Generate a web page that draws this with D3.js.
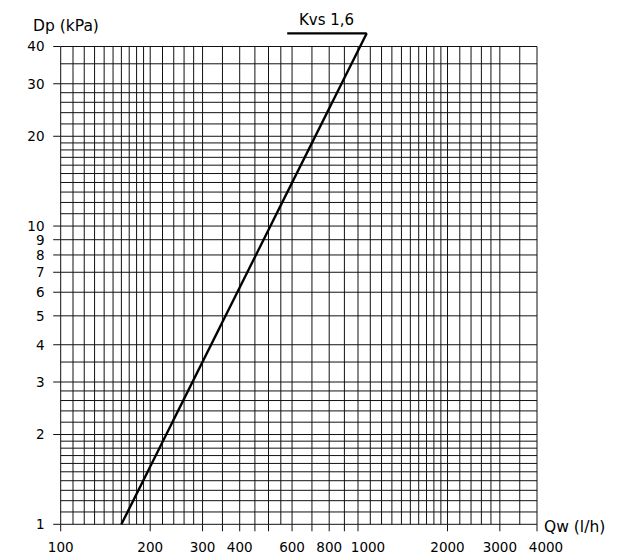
<!DOCTYPE html>
<html>
<head>
<meta charset="utf-8">
<script src="https://cdn.jsdelivr.net/npm/d3@7"></script>
<style>
  body { margin: 0; background: #fff; }
  svg text { font-family: "DejaVu Sans", sans-serif; fill: #000; }
</style>
</head>
<body>
<svg id="chart" width="625" height="558"></svg>
<script>
// Grid values (log-log paper)
const xGrid = [100, 110, 120, 130, 140, 150, 160, 170, 180, 190,
  200, 220, 240, 260, 280, 300, 350, 400, 450, 500, 550,
  600, 700, 800, 900, 1000, 1100, 1200, 1300, 1400, 1500, 1600, 1700, 1800, 1900,
  2000, 2200, 2400, 2600, 2800, 3000, 3500, 4000];
const yGrid = [1, 1.1, 1.2, 1.3, 1.4, 1.5, 1.6, 1.7, 1.8, 1.9,
  2, 2.2, 2.4, 2.6, 2.8, 3, 3.5, 4, 5, 6, 7, 8, 9,
  10, 11, 12, 13, 14, 15, 16, 17, 18, 19, 20, 22, 24, 26, 28, 30, 35, 40];

// Tick marks and labels
const xTickMarks = [100, 200, 300, 350, 400, 450, 500, 600, 700, 800, 900, 1000, 2000, 3000, 4000];
const xLabels = [100, 200, 300, 400, 600, 800, 1000, 2000, 3000, 4000];
const yLabels = [1, 2, 3, 4, 5, 6, 7, 8, 9, 10, 20, 30, 40];

// Kvs 1,6 curve: flow (l/h) vs pressure drop (kPa), plus the leader up to the label
const kvsCurve = [[160, 1], [1070, 44.3]];
const kvsLeader = [[1070, 44.3], [578, 44.3]];

const svg = d3.select("#chart");

const x = d3.scaleLog().domain([100, 4000]).range([60.7, 537]);
const y = d3.scaleLog().domain([1, 40]).range([524.3, 46.5]);

// Grid
const grid = svg.append("g").attr("stroke", "#111").attr("stroke-width", 1);

grid.selectAll(".vx")
  .data(xGrid)
  .enter()
  .append("line")
  .attr("x1", d => x(d)).attr("x2", d => x(d))
  .attr("y1", y(40)).attr("y2", y(1));

grid.selectAll(".hy")
  .data(yGrid)
  .enter()
  .append("line")
  .attr("x1", x(100)).attr("x2", x(4000))
  .attr("y1", d => y(d)).attr("y2", d => y(d));

// Tick marks below the x axis
grid.selectAll(".tx")
  .data(xTickMarks)
  .enter()
  .append("line")
  .attr("x1", d => x(d)).attr("x2", d => x(d))
  .attr("y1", y(1)).attr("y2", y(1) + 7);

// Tick marks left of the y axis
grid.selectAll(".ty")
  .data(yLabels)
  .enter()
  .append("line")
  .attr("x1", x(100) - 7.5).attr("x2", x(100))
  .attr("y1", d => y(d)).attr("y2", d => y(d));

// X labels (1000 and 4000 are nudged right in the original)
const xShift = { 1000: 10, 4000: 9 };
svg.selectAll(".xl")
  .data(xLabels)
  .enter()
  .append("text")
  .attr("x", d => x(d) + (xShift[d] || 0))
  .attr("y", 552.3)
  .attr("text-anchor", "middle")
  .attr("font-size", 13.5)
  .text(d => d);

// Y labels
svg.selectAll(".yl")
  .data(yLabels)
  .enter()
  .append("text")
  .attr("x", 44.5)
  .attr("y", d => y(d))
  .attr("dy", "0.36em")
  .attr("text-anchor", "end")
  .attr("font-size", 13.5)
  .text(d => d);

// Axis titles
svg.append("text")
  .attr("x", 33).attr("y", 31)
  .attr("font-size", 15.5)
  .text("Dp (kPa)");

svg.append("text")
  .attr("x", 544).attr("y", 531.5)
  .attr("font-size", 15.5)
  .text("Qw (l/h)");

// Curve
const line = d3.line().x(d => x(d[0])).y(d => y(d[1]));

svg.append("path")
  .datum(kvsCurve)
  .attr("d", line)
  .attr("fill", "none")
  .attr("stroke", "#000")
  .attr("stroke-width", 2.4);

svg.append("path")
  .datum(kvsLeader)
  .attr("d", line)
  .attr("fill", "none")
  .attr("stroke", "#000")
  .attr("stroke-width", 2.2);

svg.append("text")
  .attr("x", 299).attr("y", 25)
  .attr("font-size", 15)
  .text("Kvs 1,6");
</script>
</body>
</html>
